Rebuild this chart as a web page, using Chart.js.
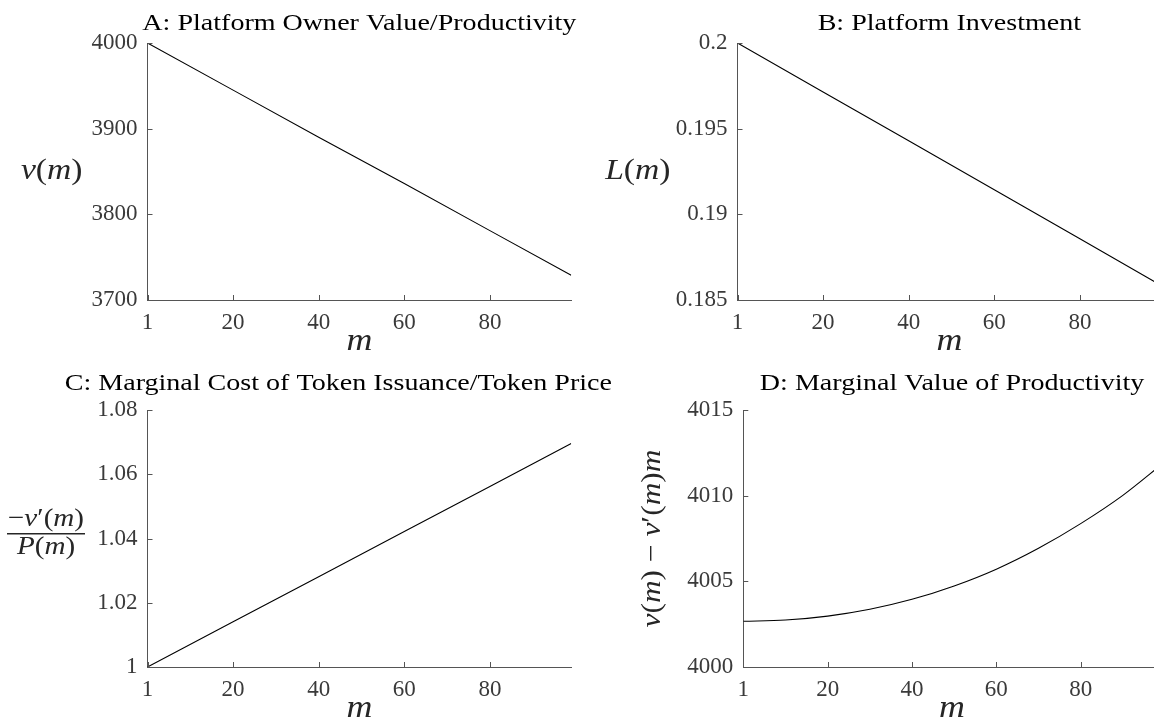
<!DOCTYPE html>
<html>
<head>
<meta charset="utf-8">
<script src="https://cdn.jsdelivr.net/npm/chart.js@4.4.1/dist/chart.umd.min.js"></script>
<style>
  html, body { margin: 0; padding: 0; background: #fff; overflow: hidden; width: 1154px; height: 719px; }
  canvas { position: absolute; left: 0; top: 0; }
</style>
</head>
<body>
<canvas id="chartA" width="1175" height="719"></canvas>
<canvas id="chartB" width="1175" height="719"></canvas>
<canvas id="chartC" width="1175" height="719"></canvas>
<canvas id="chartD" width="1175" height="719"></canvas>
<script>
// m axis: the tick labelled "1" sits at position 0
const mPos = [0, 20, 40, 60, 80, 99];
const mPosD = [0, 10, 20, 30, 40, 50, 60, 70, 80, 90, 99];
const xTickPos = [0, 20, 40, 60, 80];
const xTickLabels = ['1', '20', '40', '60', '80'];

// values
const ownerValue = [4000, 3945, 3890, 3836, 3781, 3729];
const investment = [0.2, 0.19714, 0.19429, 0.19143, 0.18857, 0.18585];
const costRatio = [1.0, 1.0141, 1.0281, 1.0422, 1.0562, 1.0696];
const marginalValue = [4002.67, 4002.74, 4002.97, 4003.37, 4003.95, 4004.73, 4005.71, 4006.93, 4008.37, 4010.02, 4011.78];

const yTicksA = [3700, 3800, 3900, 4000];
const yTicksB = [0.185, 0.19, 0.195, 0.2];
const yTicksC = [1, 1.02, 1.04, 1.06, 1.08];
const yTicksD = [4000, 4005, 4010, 4015];

const W = 1175, H = 719;
const serif = '"Liberation Serif", "Times New Roman", serif';
const axisColor = '#555';
const textColor = '#262626';
const tickColor = '#3a3a3a';

// draws a sequence of [text, italic] runs, horizontally stretched like the LaTeX font
function drawRuns(ctx, runs, x, y, size, align, stretch) {
  const fonts = runs.map(r => (r[1] ? 'italic ' : '') + size + 'px ' + serif);
  let w = 0;
  const widths = runs.map((r, i) => { ctx.font = fonts[i]; const m = ctx.measureText(r[0]).width; w += m; return m; });
  ctx.save();
  ctx.translate(x, y);
  ctx.scale(stretch, 1);
  let cx = align === 'center' ? -w / 2 : align === 'right' ? -w : 0;
  ctx.textAlign = 'left';
  ctx.textBaseline = 'alphabetic';
  runs.forEach((r, i) => { ctx.font = fonts[i]; ctx.fillText(r[0], cx, 0); cx += widths[i]; });
  ctx.restore();
}

const panelText = {
  id: 'panelText',
  afterDraw(chart, args, opts) {
    const { ctx, chartArea: a, scales: { x, y } } = chart;
    ctx.save();
    // MATLAB style inward ticks
    ctx.strokeStyle = axisColor;
    ctx.lineWidth = 1;
    ctx.beginPath();
    x.ticks.forEach(t => {
      const px = Math.round(x.getPixelForValue(t.value)) + 0.5;
      ctx.moveTo(px, a.bottom); ctx.lineTo(px, a.bottom - 5);
    });
    y.ticks.forEach(t => {
      const py = Math.round(y.getPixelForValue(t.value)) + 0.5;
      ctx.moveTo(a.left, py); ctx.lineTo(a.left + 5, py);
    });
    ctx.stroke();

    const cx = (a.left + a.right) / 2;
    const mid = (a.top + a.bottom) / 2;
    // title
    ctx.fillStyle = '#000';
    drawRuns(ctx, [[opts.title, false]], cx + opts.titleShift, a.top - opts.titleGap, 23, 'center', 1.22);
    // x label
    ctx.fillStyle = textColor;
    drawRuns(ctx, [['m', true]], cx, a.bottom + 50, 32, 'center', 1.12);
    // y label
    if (opts.ylabel === 'v') {
      drawRuns(ctx, [['v', true], ['(', false], ['m', true], [')', false]], a.left - 65, mid + 7, 30, 'right', 1.12);
    } else if (opts.ylabel === 'L') {
      drawRuns(ctx, [['L', true], ['(', false], ['m', true], [')', false]], a.left - 67, mid + 7, 30, 'right', 1.12);
    } else if (opts.ylabel === 'frac') {
      const fx = a.left - 101.5;
      drawRuns(ctx, [['\u2212', false], ['v', true], ['\u2032', false], ['(', false], ['m', true], [')', false]], fx, mid - 12.5, 26, 'center', 1.12);
      ctx.fillRect(fx - 39, mid - 5.5, 78, 1.5);
      drawRuns(ctx, [['P', true], ['(', false], ['m', true], [')', false]], fx, mid + 15, 26, 'center', 1.12);
    } else if (opts.ylabel === 'rot') {
      ctx.save();
      ctx.translate(a.left - 83, mid);
      ctx.rotate(-Math.PI / 2);
      drawRuns(ctx, [['v', true], ['(', false], ['m', true], [') \u2212 ', false], ['v', true], ['\u2032', false], ['(', false], ['m', true], [')', false], ['m', true]], 0, 0, 28, 'center', 1.12);
      ctx.restore();
    }
    ctx.restore();
  }
};

function makePanel(id, area, xs, ys, yTicks, text, smooth) {
  new Chart(document.getElementById(id), {
    type: 'line',
    data: {
      datasets: [{
        data: xs.map((x, i) => ({ x: x, y: ys[i] })),
        borderColor: '#000',
        borderWidth: 1.1,
        pointRadius: 0,
        fill: false,
        cubicInterpolationMode: smooth ? 'monotone' : 'default'
      }]
    },
    options: {
      responsive: false,
      animation: false,
      devicePixelRatio: 1,
      // y scale box fills the space left of the plot, x scale box the space below it
      layout: { padding: { left: 0, top: area[1], right: W - area[2], bottom: 0 } },
      plugins: {
        legend: { display: false },
        tooltip: { enabled: false },
        title: { display: false },
        panelText: text
      },
      scales: {
        x: {
          type: 'linear',
          min: 0,
          max: 99,
          afterBuildTicks: s => { s.ticks = xTickPos.map(v => ({ value: v })); },
          afterFit: s => { s.height = H - area[3]; },
          grid: { display: false, drawTicks: false },
          border: { display: true, color: axisColor, width: 1 },
          ticks: {
            autoSkip: false, maxRotation: 0, padding: 9,
            color: tickColor, font: { family: serif, size: 23 },
            callback: (v, i) => xTickLabels[i]
          }
        },
        y: {
          type: 'linear',
          min: yTicks[0],
          max: yTicks[yTicks.length - 1],
          afterBuildTicks: s => { s.ticks = yTicks.map(v => ({ value: v })); },
          afterFit: s => { s.width = area[0]; },
          grid: { display: false, drawTicks: false },
          border: { display: true, color: axisColor, width: 1 },
          ticks: {
            autoSkip: false, padding: 10,
            color: tickColor, font: { family: serif, size: 23 },
            callback: v => String(v)
          }
        }
      }
    },
    plugins: [panelText]
  });
}

makePanel('chartA', [147.5, 43, 571.2, 300], mPos, ownerValue, yTicksA,
  { title: 'A: Platform Owner Value/Productivity', titleGap: 13, titleShift: 0, ylabel: 'v' }, false);
makePanel('chartB', [737.5, 43, 1161.2, 300], mPos, investment, yTicksB,
  { title: 'B: Platform Investment', titleGap: 13, titleShift: 0, ylabel: 'L' }, false);
makePanel('chartC', [147.5, 410, 571.2, 667], mPos, costRatio, yTicksC,
  { title: 'C: Marginal Cost of Token Issuance/Token Price', titleGap: 20, titleShift: -21, ylabel: 'frac' }, false);
makePanel('chartD', [743.3, 410, 1160.8, 667], mPosD, marginalValue, yTicksD,
  { title: 'D: Marginal Value of Productivity', titleGap: 20, titleShift: 0, ylabel: 'rot' }, true);
</script>
</body>
</html>
